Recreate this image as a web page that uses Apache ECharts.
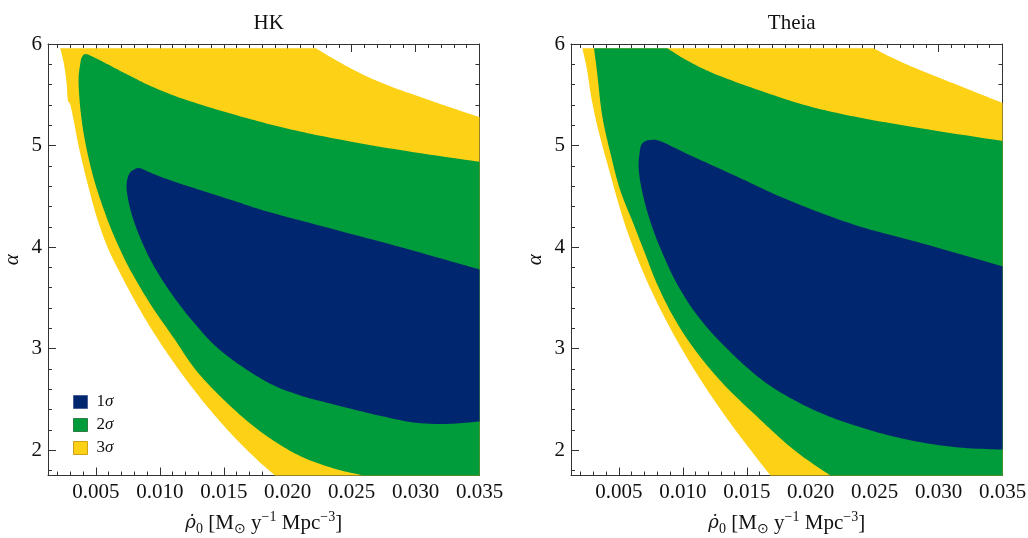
<!DOCTYPE html>
<html><head><meta charset="utf-8">
<script src="https://cdn.jsdelivr.net/npm/echarts@6/dist/echarts.min.js"></script>
<style>html,body{margin:0;padding:0;background:#fff}#c{width:1028px;height:538px}</style>
</head><body><div id="c"></div>
<script>
// ---- data ----
const panelTitles = ['HK', 'Theia'];
const levelNames = ['1σ', '2σ', '3σ'];
const levelColors = ['#00266F', '#009B3A', '#FCD116'];
const xMajorTicks = [0.005, 0.010, 0.015, 0.020, 0.025, 0.030, 0.035];
const xMinorTicks = [0.002, 0.003, 0.004, 0.006, 0.007, 0.008, 0.009, 0.011, 0.012, 0.013, 0.014,
  0.016, 0.017, 0.018, 0.019, 0.021, 0.022, 0.023, 0.024, 0.026, 0.027, 0.028, 0.029,
  0.031, 0.032, 0.033, 0.034];
const yMajorTicks = [2, 3, 4, 5, 6];
const yMinorTicks = [1.8, 2.2, 2.4, 2.6, 2.8, 3.2, 3.4, 3.6, 3.8, 4.2, 4.4, 4.6, 4.8, 5.2, 5.4, 5.6, 5.8];

// contour regions [rho0, alpha] -- HK
const hk3sigma = [[0.00221,5.958],[0.0222,5.958],[0.0242,5.81],[0.0262,5.68],[0.0282,5.575],[0.0301,5.49],[0.0325,5.385],[0.035,5.28],
  [0.035,1.75],[0.0190,1.75],[0.0176,1.906],[0.0158,2.13],[0.0139,2.40],[0.0122,2.67],[0.0106,2.95],[0.0092,3.22],[0.0080,3.48],
  [0.0069,3.74],[0.0059,4.00],[0.0051,4.28],[0.0045,4.55],[0.0040,4.80],[0.0036,5.02],[0.0033,5.22],[0.0030,5.40],[0.0028,5.45],
  [0.0027,5.62],[0.0025,5.80]];
const hk2sigma = [[0.00425,5.90],[0.0053,5.84],[0.0066,5.755],[0.0080,5.665],[0.0093,5.585],[0.0118,5.46],[0.0158,5.305],[0.0197,5.175],
  [0.0236,5.07],[0.0288,4.955],[0.035,4.84],
  [0.035,1.75],[0.0259,1.75],[0.0236,1.82],[0.0210,1.94],[0.0184,2.135],[0.0158,2.40],[0.0130,2.76],[0.0110,3.12],[0.0092,3.45],
  [0.0077,3.77],[0.0068,4.00],[0.0059,4.27],[0.0050,4.60],[0.0044,4.89],[0.0040,5.15],[0.00375,5.40],[0.00364,5.65],[0.00378,5.81],[0.0039,5.87]];
const hk1sigma = [[0.00848,4.775],[0.0095,4.72],[0.0110,4.65],[0.0132,4.56],[0.0158,4.455],[0.0184,4.35],[0.0236,4.175],[0.0288,4.00],[0.035,3.78],
  [0.035,2.283],[0.0325,2.258],[0.0300,2.27],[0.0275,2.33],[0.0236,2.45],[0.0207,2.55],[0.0181,2.69],[0.0147,2.985],[0.0125,3.28],
  [0.0108,3.56],[0.0095,3.82],[0.0086,4.05],[0.0079,4.28],[0.0075,4.48],[0.0074,4.62],[0.0076,4.72],[0.0080,4.765]];
// Theia
const th3sigma = [[0.00214,5.958],[0.0249,5.958],[0.0273,5.81],[0.0312,5.61],[0.035,5.42],
  [0.035,1.75],[0.01685,1.75],[0.0153,2.00],[0.0138,2.25],[0.0124,2.50],[0.0111,2.75],[0.0099,3.00],[0.0088,3.25],[0.0078,3.50],
  [0.0069,3.75],[0.0061,4.00],[0.0054,4.25],[0.0048,4.50],[0.00425,4.75],[0.0037,5.00],[0.0032,5.25],[0.0028,5.50],[0.0025,5.75]];
const th2sigma = [[0.00305,5.958],[0.00878,5.958],[0.0103,5.84],[0.0124,5.71],[0.0156,5.56],[0.0195,5.40],[0.0234,5.285],[0.0286,5.17],[0.035,5.045],
  [0.035,1.75],[0.02154,1.75],[0.0187,2.00],[0.0158,2.33],[0.0131,2.66],[0.01095,2.985],[0.00926,3.313],[0.00796,3.642],
  [0.0070,3.95],[0.0061,4.24],[0.0051,4.56],[0.0044,4.89],[0.0037,5.285],[0.0033,5.71]];
const th1sigma = [[0.00748,5.055],[0.0083,5.04],[0.0103,4.92],[0.0143,4.69],[0.0182,4.465],[0.0234,4.22],[0.0286,4.04],[0.035,3.81],
  [0.035,2.005],[0.0312,2.03],[0.0273,2.11],[0.0234,2.245],[0.0200,2.41],[0.01656,2.657],[0.01356,2.985],[0.01121,3.313],
  [0.00952,3.642],[0.0083,3.97],[0.0075,4.235],[0.0069,4.50],[0.00655,4.76],[0.00665,4.96],[0.0069,5.03]];

const panelRegions = [[hk1sigma, hk2sigma, hk3sigma], [th1sigma, th2sigma, th3sigma]];

// ---- chart ----
const FONT = '"Liberation Serif", "Times New Roman", Times, serif';
const TXT = '#111';
const X_MIN = 0.00125, X_MAX = 0.035, Y_MIN = 1.75, Y_MAX = 6, TOP_CUT = 5.958;
const grids = [
  {left: 48, top: 44, width: 431.5, height: 431.5, containLabel: false, outerBoundsMode: 'none'},
  {left: 571, top: 44, width: 431.5, height: 431.5, containLabel: false, outerBoundsMode: 'none'}
];
const lineStyle = {color: '#333', width: 1};
const xAxes = [], yAxes = [];
grids.forEach((gr, g) => {
  const base = {gridIndex: g, type: 'value', min: X_MIN, max: X_MAX, splitLine: {show: false}};
  xAxes.push(Object.assign({}, base, {
    position: 'bottom',
    axisLine: {show: true, onZero: false, lineStyle},
    axisTick: {show: true, inside: true, length: 8, customValues: xMajorTicks, lineStyle},
    axisLabel: {show: true, customValues: xMajorTicks, margin: 6, fontFamily: FONT, fontSize: 21, color: TXT,
      formatter: v => v.toFixed(3)},
    name: '{r|ρ̇}{sub|0} [M{sub|⊙} y{sup|−1} Mpc{sup|−3}]',
    nameLocation: 'middle', nameGap: 35,
    nameTextStyle: {color: TXT, fontFamily: FONT, fontSize: 21,
      rich: {
        r: {fontFamily: 'DejaVu Serif', fontStyle: 'italic', fontSize: 18, lineHeight: 26, color: TXT},
        sub: {fontFamily: FONT, fontSize: 14, lineHeight: 12, verticalAlign: 'bottom', color: TXT},
        sup: {fontFamily: FONT, fontSize: 14, lineHeight: 13, verticalAlign: 'top', color: TXT}
      }}
  }));
  xAxes.push(Object.assign({}, base, {
    position: 'bottom', axisLine: {show: false},
    axisTick: {show: true, inside: true, length: 4, customValues: xMinorTicks, lineStyle},
    axisLabel: {show: false}
  }));
  xAxes.push(Object.assign({}, base, {
    position: 'top', axisLine: {show: true, onZero: false, lineStyle},
    axisTick: {show: true, inside: true, length: 8, customValues: xMajorTicks, lineStyle},
    axisLabel: {show: false}
  }));
  xAxes.push(Object.assign({}, base, {
    position: 'top', axisLine: {show: false},
    axisTick: {show: true, inside: true, length: 4, customValues: xMinorTicks, lineStyle},
    axisLabel: {show: false}
  }));
  const ybase = {gridIndex: g, type: 'value', min: Y_MIN, max: Y_MAX, splitLine: {show: false}};
  yAxes.push(Object.assign({}, ybase, {
    position: 'left',
    axisLine: {show: true, onZero: false, lineStyle},
    axisTick: {show: true, inside: true, length: 8, customValues: yMajorTicks, lineStyle},
    axisLabel: {show: true, customValues: yMajorTicks, margin: 6, fontFamily: FONT, fontSize: 21, color: TXT,
      formatter: v => String(v)},
    name: 'α', nameLocation: 'middle', nameGap: 25, nameRotate: 90,
    nameTextStyle: {color: TXT, fontFamily: FONT, fontSize: 21, fontStyle: 'italic'}
  }));
  yAxes.push(Object.assign({}, ybase, {
    position: 'left', axisLine: {show: false},
    axisTick: {show: true, inside: true, length: 4, customValues: yMinorTicks, lineStyle},
    axisLabel: {show: false}
  }));
  yAxes.push(Object.assign({}, ybase, {
    position: 'right', axisLine: {show: true, onZero: false, lineStyle},
    axisTick: {show: true, inside: true, length: 8, customValues: yMajorTicks, lineStyle},
    axisLabel: {show: false}
  }));
  yAxes.push(Object.assign({}, ybase, {
    position: 'right', axisLine: {show: false},
    axisTick: {show: true, inside: true, length: 4, customValues: yMinorTicks, lineStyle},
    axisLabel: {show: false}
  }));
});

// smooth closed outline through the mapped points; segments along the frame stay straight
function smoothOutline(pix, edge) {
  const n = pix.length, out = [];
  for (let i = 0; i < n; i++) {
    const j = (i + 1) % n, a = pix[i], b = pix[j];
    out.push(a);
    if (edge[i] && edge[j]) continue;
    const p0 = edge[i] ? a : pix[(i - 1 + n) % n];
    const p3 = edge[j] ? b : pix[(i + 2) % n];
    const c1 = [a[0] + (b[0] - p0[0]) / 6, a[1] + (b[1] - p0[1]) / 6];
    const c2 = [b[0] - (p3[0] - a[0]) / 6, b[1] - (p3[1] - a[1]) / 6];
    for (let s = 1; s < 12; s++) {
      const t = s / 12, u = 1 - t;
      out.push([
        u*u*u*a[0] + 3*u*u*t*c1[0] + 3*u*t*t*c2[0] + t*t*t*b[0],
        u*u*u*a[1] + 3*u*u*t*c1[1] + 3*u*t*t*c2[1] + t*t*t*b[1]
      ]);
    }
  }
  return out;
}

function regionSeries(name, pts, color, g) {
  const edge = pts.map(p => p[0] >= X_MAX - 1e-9 || p[1] <= Y_MIN + 1e-9 || p[1] >= TOP_CUT - 1e-9);
  return {
    type: 'custom', name, coordinateSystem: 'cartesian2d',
    xAxisIndex: g * 4, yAxisIndex: g * 4,
    data: pts, itemStyle: {color}, silent: true, animation: false,
    renderItem(params, api) {
      if (params.dataIndex !== 0) return null;
      const pix = pts.map(p => api.coord(p));
      return {type: 'polygon', shape: {points: smoothOutline(pix, edge)}, style: {fill: color}};
    }
  };
}
const series = [];
panelRegions.forEach((regs, g) => {
  for (let k = 2; k >= 0; k--) series.push(regionSeries(levelNames[k], regs[k], levelColors[k], g));
});

const borderCols = ['#4a5f93', '#2f7d45', '#c9a515'];
const option = {
  backgroundColor: '#fff',
  animation: false,
  textStyle: {fontFamily: FONT, color: TXT},
  title: panelTitles.map((t, g) => ({
    text: t, left: grids[g].left + grids[g].width / 2, top: 8, textAlign: 'center',
    textStyle: {fontFamily: FONT, fontSize: 21, fontWeight: 'normal', color: TXT}
  })),
  grid: grids,
  xAxis: xAxes,
  yAxis: yAxes,
  legend: {
    left: 73, top: 393.5, orient: 'vertical', itemWidth: 14, itemHeight: 13, itemGap: 6, icon: 'rect',
    selectedMode: false, padding: 0,
    data: levelNames.map((n, i) => ({name: n, itemStyle: {color: levelColors[i], borderColor: borderCols[i], borderWidth: 1}})),
    formatter: n => '{n|' + n[0] + '}{s|σ}',
    textStyle: {padding: [0, 0, 0, 4], rich: {
      n: {fontFamily: FONT, fontSize: 17, color: TXT},
      s: {fontFamily: FONT, fontSize: 17, fontStyle: 'italic', color: TXT}
    }}
  },
  series
};
const chart = echarts.init(document.getElementById('c'), null, {renderer: 'canvas'});
chart.setOption(option);
</script></body></html>
